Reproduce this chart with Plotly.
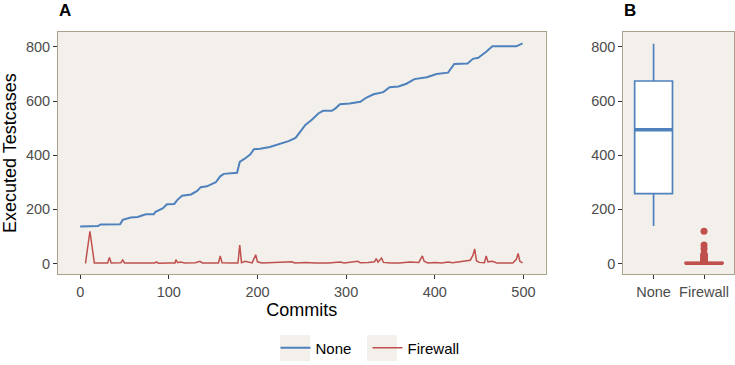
import plotly.graph_objects as go

# ---------------- data ----------------
none_commit = [0, 20, 23, 45, 48, 57, 65, 74, 83, 85, 93, 98, 106, 110, 115, 125, 132, 136, 143, 153,
               158, 162, 177, 180, 186, 192, 196, 203, 214, 226, 235, 243, 248, 254, 261, 269, 274, 284,
               288, 293, 304, 316, 323, 331, 342, 349, 359, 368, 377, 391, 402, 415, 422, 437, 443, 449,
               458, 465, 492, 499]
none_value = [137, 138, 144, 145, 161, 170, 172, 182, 182, 191, 203, 219, 220, 236, 250, 255, 268, 282, 285, 300,
              322, 331, 335, 375, 388, 403, 422, 424, 430, 442, 452, 464, 488, 512, 530, 555, 564, 564,
              573, 588, 591, 597, 613, 625, 633, 651, 654, 664, 681, 688, 700, 705, 737, 739, 756, 760,
              782, 802, 802, 813]

fw_commit = [6, 11, 16, 31, 33, 35, 46, 48, 50, 70, 84, 86, 88, 100, 107, 108, 110, 113, 118, 130, 135, 138,
             156, 158, 160, 170, 178, 180, 182, 186, 190, 194, 198, 200, 205, 215, 222, 239, 242, 255, 265,
             280, 293, 298, 313, 316, 325, 332, 334, 336, 340, 342, 350, 360, 372, 382, 386, 388, 392, 400,
             408, 415, 420, 428, 435, 440, 443, 445, 447, 450, 456, 458, 460, 465, 470, 480, 488, 492, 494,
             496, 499]
fw_value = [0, 119, 2, 2, 22, 2, 3, 13, 2, 1, 2, 6, 1, 2, 2, 14, 3, 5, 2, 3, 8, 2,
            2, 28, 3, 2, 2, 68, 3, 8, 4, 2, 32, 6, 2, 3, 2, 6, 2, 4, 2,
            2, 5, 2, 8, 3, 4, 6, 18, 5, 20, 4, 2, 2, 5, 4, 28, 8, 2, 4,
            2, 5, 3, 6, 8, 12, 30, 54, 10, 4, 3, 28, 6, 8, 2, 2, 2, 15, 37,
            8, 2]

# box-plot summaries (panel B)
box_cats = ["None", "Firewall"]
box_pos = [1, 2]
box_q1 = [258, 0]
box_median = [494, 1]
box_q3 = [674, 3]
box_low = [138, 0]
box_high = [812, 6]

BLUE = "#4F81BD"
RED = "#C0504D"
PANEL = "#F3F0EB"
BORDER = "#A9A18C"
FONT = "Liberation Sans, Arial, sans-serif"

fig = go.Figure()

# panel A lines
fig.add_trace(go.Scatter(x=none_commit, y=none_value, mode="lines", name="None",
                         line=dict(color=BLUE, width=2), xaxis="x", yaxis="y"))
fig.add_trace(go.Scatter(x=fw_commit, y=fw_value, mode="lines", name="Firewall",
                         line=dict(color=RED, width=1.5), xaxis="x", yaxis="y"))

# panel B boxes
colors = [BLUE, RED]
for i in range(2):
    fig.add_trace(go.Box(x=[box_pos[i]], q1=[box_q1[i]], median=[box_median[i]], q3=[box_q3[i]],
                         lowerfence=[box_low[i]], upperfence=[box_high[i]],
                         width=0.75, whiskerwidth=0, fillcolor="white",
                         line=dict(color=colors[i], width=1.7), showlegend=False,
                         hoverinfo="skip", xaxis="x2", yaxis="y2"))
    fig.add_trace(go.Scatter(x=[box_pos[i] - 0.375, box_pos[i] + 0.375],
                             y=[box_median[i], box_median[i]], mode="lines",
                             line=dict(color=colors[i], width=3.5), showlegend=False,
                             hoverinfo="skip", xaxis="x2", yaxis="y2"))

fence = box_q3[1] + 1.5 * (box_q3[1] - box_q1[1])
outliers = [v for v in fw_value if v > fence]
fig.add_trace(go.Scatter(x=[box_pos[1]] * len(outliers), y=outliers, mode="markers",
                         marker=dict(color=RED, size=7), showlegend=False,
                         xaxis="x2", yaxis="y2"))

W, H = 735, 365
ax_common = dict(showgrid=False, zeroline=False, showline=True, mirror=True,
                 linecolor=BORDER, linewidth=1, ticks="outside", ticklen=4,
                 tickcolor="#333333", tickwidth=1,
                 tickfont=dict(family=FONT, size=14.5, color="#4D4D4D"))
yrange = [-40.7, 855.7]
ydom = [1 - 276 / H, 1 - 32 / H]

# legend key backgrounds (pixel positions converted to paper coords)
key_boxes = []
for x0 in (280, 367):
    key_boxes.append(dict(type="rect", xref="paper", yref="paper", layer="below",
                          x0=x0 / W, x1=(x0 + 30) / W, y0=1 - 363 / H, y1=1 - 337 / H,
                          fillcolor=PANEL, line=dict(width=0)))

fig.update_layout(
    width=W, height=H,
    margin=dict(l=0, r=0, t=0, b=0),
    paper_bgcolor="white", plot_bgcolor=PANEL,
    font=dict(family=FONT),
    xaxis=dict(domain=[58 / W, 545.6 / W], range=[-25, 525], tickvals=[0, 100, 200, 300, 400, 500],
               anchor="y", title=dict(text="Commits", font=dict(size=18, color="black"), standoff=4),
               **ax_common),
    yaxis=dict(domain=ydom, range=yrange, tickvals=[0, 200, 400, 600, 800], anchor="x",
               title=dict(text="Executed Testcases", font=dict(size=18, color="black"), standoff=6),
               **ax_common),
    xaxis2=dict(domain=[623.3 / W, 734.3 / W], range=[0.4, 2.6], tickvals=box_pos, ticktext=box_cats,
                anchor="y2", **ax_common),
    yaxis2=dict(domain=ydom, range=yrange, tickvals=[0, 200, 400, 600, 800], anchor="x2",
                **ax_common),
    legend=dict(orientation="h", x=0.5, xanchor="center", y=1 - 350 / H, yanchor="middle",
                entrywidth=47, entrywidthmode="pixels",
                font=dict(size=15, color="black"), bgcolor="rgba(0,0,0,0)"),
    shapes=key_boxes,
    annotations=[
        dict(text="<b>A</b>", x=57 / W, y=1 - 10.5 / H, xref="paper", yref="paper",
             xanchor="left", yanchor="middle", showarrow=False, font=dict(size=17, color="black")),
        dict(text="<b>B</b>", x=622 / W, y=1 - 10.5 / H, xref="paper", yref="paper",
             xanchor="left", yanchor="middle", showarrow=False, font=dict(size=17, color="black")),
    ],
)

fig.write_html("out.html")
